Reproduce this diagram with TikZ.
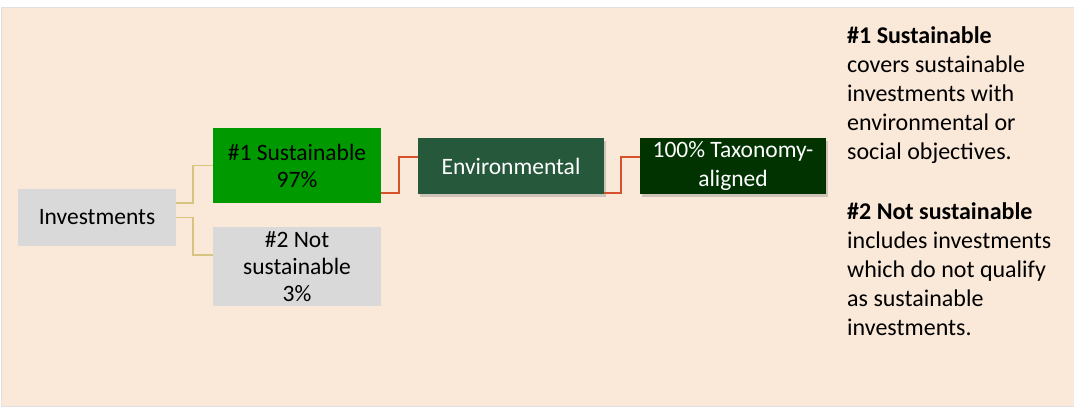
\documentclass[tikz,border=0pt]{standalone}
\usepackage{fontspec}
\setmainfont{Carlito}
\usetikzlibrary{shadows}
\definecolor{bgbeige}{RGB}{250,232,216}
\definecolor{boxgray}{RGB}{217,217,217}
\definecolor{susgreen}{RGB}{0,153,0}
\definecolor{envgreen}{RGB}{38,88,60}
\definecolor{taxgreen}{RGB}{0,51,0}
\definecolor{tanline}{RGB}{214,196,128}
\definecolor{redline}{RGB}{212,82,44}
\begin{document}
\begin{tikzpicture}[x=1pt,y=-1pt,
  box/.style={inner sep=0pt,align=center,font=\fontsize{23.5}{27}\selectfont},
  graybox/.style={box,fill=boxgray,text=black},
  shadowbox/.style={box,text=white,drop shadow={opacity=0.35,shadow xshift=2pt,shadow yshift=-2.5pt}},
  tanconn/.style={draw=tanline,line width=1.7pt},
  redconn/.style={draw=redline,line width=1.7pt}]
\useasboundingbox (0,0) rectangle (1074,407);
\fill[white] (0,0) rectangle (1074,407);
\filldraw[fill=bgbeige,draw=black!12,line width=0.6pt] (1,7) rectangle (1074,406);

\node[graybox,minimum width=158pt,minimum height=57pt] (inv) at (97,217.5) {Investments};
\node[box,fill=susgreen,text=black,minimum width=168pt,minimum height=75pt] (s1) at (297,165.5) {\#1 Sustainable\\97\%};
\node[graybox,minimum width=168pt,minimum height=79pt] (s2) at (297,266.5) {\#2 Not\\sustainable\\3\%};
\node[shadowbox,fill=envgreen,minimum width=186pt,minimum height=56pt] (env) at (511,166) {Environmental};
\node[shadowbox,fill=taxgreen,minimum width=186pt,minimum height=56pt,font=\fontsize{23.5}{29.5}\selectfont] (tax) at (733,166) {100\% Taxonomy-\\aligned};

\draw[tanconn] ([yshift=14.5pt]inv.east) -- ++(17,0) |- (s1.west);
\draw[tanconn] ([yshift=0pt]inv.east) -- ++(17,0) |- ([yshift=11.5pt]s2.west);
\draw[redconn] ([yshift=-27.5pt]s1.east) -- ++(18,0) |- ([yshift=9pt]env.west);
\draw[redconn] ([yshift=-27pt]env.east) -- ++(17,0) |- ([yshift=9pt]tax.west);

\node[anchor=north west,inner sep=0pt,align=left,font=\fontsize{24}{29}\selectfont] (legend) at (847,26)
{\textbf{\#1 Sustainable}\\covers sustainable\\investments with\\environmental or\\social objectives.\\[31pt]\textbf{\#2 Not sustainable}\\includes investments\\which do not qualify\\as sustainable\\investments.};
\end{tikzpicture}
\end{document}
